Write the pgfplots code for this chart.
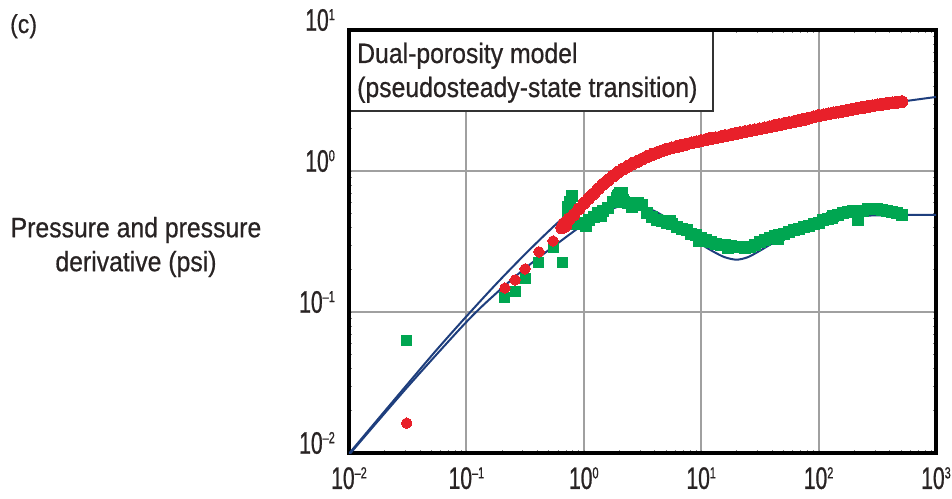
\documentclass[border=0pt]{standalone}
\usepackage{fontspec}
\setmainfont{Liberation Sans}[FakeStretch=0.885, FakeBold=0.6]
\newfontfamily\tickfont{Liberation Sans}[FakeStretch=0.68, FakeBold=0.8]
\usepackage{pgfplots}
\pgfplotsset{compat=1.18}
\definecolor{mblue}{RGB}{30,62,125}
\definecolor{dred}{RGB}{232,32,42}
\definecolor{dgreen}{RGB}{0,166,81}
\definecolor{grd}{RGB}{160,160,160}
\definecolor{boxc}{RGB}{50,50,50}
\definecolor{txt}{RGB}{40,35,35}
\newcommand{\tl}[1]{{\tickfont\fontsize{31}{31}\selectfont 10\raisebox{10.5pt}{\fontsize{16}{16}\selectfont #1}}}
\begin{document}
\begin{tikzpicture}
\useasboundingbox (-349pt,-45pt) rectangle (603pt,453pt);
\begin{axis}[
  at={(0pt,0pt)}, anchor=south west,
  scale only axis, width=587pt, height=423pt,
  xmode=log, ymode=log,
  xmin=0.01, xmax=1000, ymin=0.01, ymax=10,
  xtick={0.01,0.1,1,10,100,1000},
  ytick={0.01,0.1,1,10},
  xticklabels={\tl{–2},\tl{–1},\tl{0},\tl{1},\tl{2},\tl{3}},
  yticklabels={\tl{–2},\tl{–1},\tl{0},\tl{1}},
  minor xtick={}, minor ytick={},
  major tick length=0pt,
  grid=major,
  major grid style={grd, line width=1.8pt},
  axis line style={line width=3.5pt, black, line cap=rect},
  ticklabel style={text=txt},
  xticklabel style={inner sep=0pt, anchor=north, yshift=-14pt},
  yticklabel style={inner sep=0pt, anchor=east, xshift=-14pt, yshift=10pt},
]
% pressure model
\addplot[mblue, line width=2pt, smooth, tension=0.5] coordinates {
(0.01,0.0099)(0.0316,0.0309)(0.0562,0.0543)(0.1,0.0931)(0.178,0.157)(0.316,0.257)(0.562,0.409)(1.0,0.625)(1.33,0.762)(1.78,0.906)(2.37,1.07)(3.16,1.22)(4.22,1.37)(5.62,1.46)(7.5,1.57)(10,1.65)(17.8,1.84)(31.6,2.02)(56.2,2.24)(100,2.47)(178,2.69)(316,2.92)(562,3.14)(1000,3.35)
};
% derivative model
\addplot[mblue, line width=2pt, smooth, tension=0.5] coordinates {
(0.01,0.0097)(0.0316,0.0295)(0.1,0.085)(0.178,0.135)(0.316,0.204)(0.562,0.295)(1.0,0.42)(1.41,0.50)(2.0,0.562)(2.5,0.58)(3.16,0.562)(4.0,0.52)(5.0,0.468)(6.3,0.407)(7.9,0.347)(10,0.302)(12.6,0.269)(15.8,0.245)(20,0.235)(25,0.245)(31.6,0.272)(39.8,0.305)(50,0.343)(63,0.38)(79,0.412)(100,0.437)(158,0.468)(251,0.482)(501,0.488)(1000,0.488)
};
% derivative data, early
\addplot[dgreen, only marks, mark=square*, mark size=5pt, mark options={draw=dgreen, fill=dgreen, line width=0pt}] coordinates {
(0.031,0.063)(0.213,0.126)(0.26,0.139)(0.316,0.174)(0.415,0.226)(0.547,0.289)(0.665,0.226)
};
% derivative data, dense
\addplot[dgreen, only marks, mark=square*, mark size=5.5pt, mark options={draw=dgreen, fill=dgreen, line width=0pt}] coordinates {
(0.73,0.556)(0.76,0.60)(0.80,0.665)(0.73,0.47)
(0.750,0.47)(0.825,0.42)(0.909,0.42)(1.00,0.43)(1.10,0.45)(1.21,0.47)(1.33,0.50)(1.47,0.52)(1.61,0.55)(1.78,0.60)(1.96,0.66)(2.15,0.62)(2.37,0.59)(2.61,0.59)(2.87,0.59)(3.16,0.57)(3.48,0.50)(3.83,0.47)(4.22,0.45)(4.64,0.44)(5.11,0.43)(5.62,0.42)(6.19,0.40)(6.81,0.39)(7.50,0.38)(8.25,0.36)(9.09,0.35)
(10.0,0.335)(11.0,0.325)(12.1,0.315)(13.3,0.305)(14.7,0.30)(16.1,0.30)(17.8,0.295)(19.6,0.29)(21.5,0.29)(23.7,0.285)(26.1,0.29)(28.7,0.30)(31.6,0.315)(34.8,0.325)(38.3,0.335)(42.2,0.345)(46.4,0.35)(51.1,0.36)(56.2,0.37)(61.9,0.38)(68.1,0.39)(75.0,0.40)(82.5,0.41)(90.9,0.42)
(100,0.43)(110,0.45)(121,0.46)(133,0.48)(147,0.49)(161,0.505)(178,0.515)(196,0.52)(215,0.45)(237,0.52)(261,0.535)(287,0.54)(316,0.535)(348,0.53)(383,0.52)(422,0.51)(464,0.50)(511,0.49)
(1.92,0.64)(2.03,0.70)(2.12,0.70)(2.0,0.68)(2.57,0.556)(2.2,0.60)(1.05,0.41)(1.4,0.48)(5.4,0.44)(9.5,0.32)(17,0.285)(45,0.33)(130,0.465)
};
% pressure data, early
\addplot[dred, only marks, mark=*, mark size=5.2pt, mark options={draw=dred, fill=dred, line width=0pt}] coordinates {
(0.031,0.0163)(0.213,0.148)(0.26,0.169)(0.316,0.202)(0.415,0.267)(0.547,0.319)
};
% pressure data, dense
\addplot[dred, only marks, mark=*, mark size=6pt, mark options={draw=dred, fill=dred, line width=0pt}] coordinates {
(0.65,0.395)(0.70,0.41)(0.72,0.44)
(0.681,0.42)(0.750,0.455)(0.825,0.49)(0.909,0.54)(1.00,0.59)(1.10,0.64)(1.21,0.69)(1.33,0.75)(1.47,0.81)(1.61,0.86)(1.78,0.92)(1.96,0.98)(2.15,1.03)(2.37,1.08)(2.61,1.13)(2.87,1.17)(3.16,1.22)(3.48,1.27)(3.83,1.31)(4.22,1.35)(4.64,1.39)(5.11,1.43)(5.62,1.46)(6.19,1.49)(6.81,1.52)(7.50,1.55)(8.25,1.58)(9.09,1.61)
(10.0,1.64)(11.0,1.67)(12.1,1.70)(13.3,1.72)(14.7,1.75)(16.1,1.78)(17.8,1.81)(19.6,1.84)(21.5,1.87)(23.7,1.90)(26.1,1.93)(28.7,1.96)(31.6,1.99)(34.8,2.02)(38.3,2.06)(42.2,2.10)(46.4,2.13)(51.1,2.17)(56.2,2.20)(61.9,2.24)(68.1,2.28)(75.0,2.32)(82.5,2.37)(90.9,2.42)
(100,2.47)(110,2.50)(121,2.54)(133,2.58)(147,2.62)(161,2.66)(178,2.70)(196,2.75)(215,2.79)(237,2.82)(261,2.86)(287,2.90)(316,2.94)(348,2.97)(383,3.01)(422,3.04)(464,3.07)(511,3.10)
};
\end{axis}
% title box
\fill[white] (1.75pt,342pt) rectangle (364pt,421.25pt);
\draw[line width=2pt, boxc] (364pt,421.25pt) -- (364pt,342pt) -- (1.75pt,342pt);
\node[anchor=base west, inner sep=0pt, text=txt, font=\fontsize{28}{34}\selectfont] at (8pt,390pt) {Dual-porosity model};
\node[anchor=base west, inner sep=0pt, text=txt, font=\fontsize{28}{34}\selectfont] at (8pt,356pt) {(pseudosteady-state transition)};
% panel tag and y label
\node[anchor=base west, inner sep=0pt, text=txt, font=\fontsize{26}{30}\selectfont] at (-339pt,420pt) {(c)};
\node[align=center, inner sep=0pt, anchor=center, text=txt, font=\fontsize{28}{34}\selectfont] at (-213pt,206pt) {Pressure and pressure\\derivative (psi)};
\end{tikzpicture}
\end{document}
